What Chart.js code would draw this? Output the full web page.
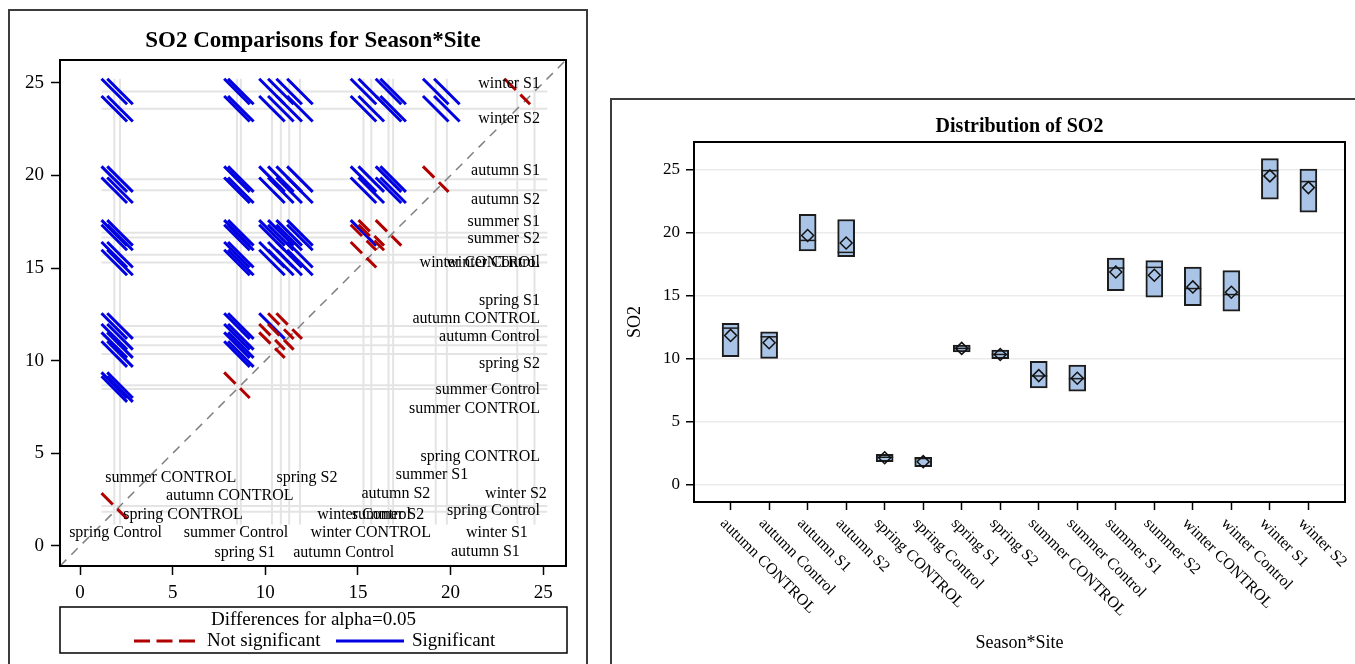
<!DOCTYPE html>
<html lang="en">
<head>
<meta charset="UTF-8">
<title>SO2 by Season*Site</title>
<script src="https://cdn.jsdelivr.net/npm/chart.js"></script>
<style>
  html, body { margin: 0; padding: 0; background: #fff; overflow: hidden; }
  body { width: 1355px; height: 664px; position: relative; }
  .panel { position: absolute; border: 2px solid #3c3c3c; }
  #leftPanel { left: 8px; top: 9px; width: 576px; height: 700px; }
  #rightPanel { left: 610px; top: 98px; width: 800px; height: 700px; }
  canvas { position: absolute; }
  #diffogram { left: 10px; top: 10px; }
  #boxplot { left: 612px; top: 100px; }
</style>
</head>
<body>
<div class="panel" id="leftPanel"></div>
<div class="panel" id="rightPanel"></div>
<canvas id="diffogram" width="576" height="654"></canvas>
<canvas id="boxplot" width="743" height="564"></canvas>

<script>
// groups (Season*Site) and their summary statistics
const groups = ['autumn CONTROL', 'autumn Control', 'autumn S1', 'autumn S2',
                'spring CONTROL', 'spring Control', 'spring S1', 'spring S2',
                'summer CONTROL', 'summer Control', 'summer S1', 'summer S2',
                'winter CONTROL', 'winter Control', 'winter S1', 'winter S2'];
const means   = [11.87, 11.29, 19.80, 19.20, 2.16, 1.85, 10.84, 10.36,
                 8.68, 8.47, 16.90, 16.65, 15.72, 15.30, 24.53, 23.60];
const q1      = [10.18, 10.05, 18.57, 18.12, 1.85, 1.45, 10.57, 10.02,
                 7.70, 7.44, 15.43, 14.90, 14.24, 13.79, 22.68, 21.65];
const medians = [12.45, 11.76, 19.41, 18.46, 2.20, 2.10, 10.84, 10.36,
                 8.65, 8.44, 17.22, 17.27, 15.59, 15.11, 24.95, 24.08];
const q3      = [12.82, 12.16, 21.47, 21.07, 2.43, 2.19, 11.10, 10.71,
                 9.81, 9.52, 18.01, 17.80, 17.30, 17.01, 25.90, 25.08];
// width of the confidence interval for a difference (alpha = 0.05)
const ciWidth = 1.38;
const axisTicks = [0, 5, 10, 15, 20, 25];
const groupIdx = groups.map((g, i) => i);

// where SAS put the level labels inside the diffogram (axis units)
const rightLabelLayout = [
  ['winter S1', 24.92], ['winter S2', 23.03], ['autumn S1', 20.24], ['autumn S2', 18.71],
  ['summer S1', 17.49], ['summer S2', 16.58], ['winter CONTROL', 15.29], ['winter Control', 15.29],
  ['spring S1', 13.26], ['autumn CONTROL', 12.28], ['autumn Control', 11.28], ['spring S2', 9.86],
  ['summer Control', 8.42], ['summer CONTROL', 7.38], ['spring CONTROL', 4.82], ['spring Control', 1.89]
];
const bottomLabelLayout = [
  ['summer CONTROL', 4.90, 3.69], ['spring S2', 12.25, 3.69], ['summer S1', 19.0, 3.82],
  ['autumn CONTROL', 8.08, 2.70], ['autumn S2', 17.05, 2.79], ['winter S2', 23.53, 2.84],
  ['spring CONTROL', 5.56, 1.71], ['winter Control', 15.33, 1.71], ['summer S2', 16.62, 1.71],
  ['spring Control', 1.92, 0.69], ['summer Control', 8.42, 0.69], ['winter CONTROL', 15.69, 0.69],
  ['winter S1', 22.5, 0.72], ['spring S1', 8.9, -0.39], ['autumn Control', 14.23, -0.39],
  ['autumn S1', 21.88, -0.31]
];

const FONT = "'Liberation Serif', 'Times New Roman', serif";
Chart.defaults.font.family = FONT;
Chart.defaults.color = '#000';
const BLUE = '#0000e0';
const RED = '#b00000';

// ---------- diffogram ----------
const axisMin = -1.08, axisMax = 26.23;
const half = ciWidth / 2;
const gLo = Math.min(...means) - half, gHi = Math.max(...means) + half;

function seg(data, color, width, dash, order) {
  return { data, borderColor: color, borderWidth: width, borderDash: dash,
           showLine: true, pointRadius: 0, order, fill: false };
}

const diffSets = [];
means.forEach(m => {
  diffSets.push(seg([{ x: m, y: gLo }, { x: m, y: gHi }], '#e4e4e4', 2, [], 4));
  diffSets.push(seg([{ x: gLo, y: m }, { x: gHi, y: m }], '#e4e4e4', 2, [], 4));
});
diffSets.push(seg([{ x: axisMin, y: axisMin }, { x: axisMax, y: axisMax }], '#808080', 1.5, [9, 7], 3));
for (let i = 0; i < means.length; i++) {
  for (let j = i + 1; j < means.length; j++) {
    const lo = Math.min(means[i], means[j]);
    const hi = Math.max(means[i], means[j]);
    const sig = hi - lo > ciWidth;
    diffSets.push(seg([{ x: lo - half, y: hi + half }, { x: lo + half, y: hi - half }],
      sig ? BLUE : RED, 3, sig ? [] : [16, 6.5], sig ? 2 : 1));
  }
}

const frame = {
  id: 'frame',
  afterDraw(chart) {
    const { ctx, chartArea: a } = chart;
    ctx.save();
    ctx.strokeStyle = '#000';
    ctx.lineWidth = 2;
    ctx.strokeRect(a.left, a.top, a.right - a.left, a.bottom - a.top);
    ctx.restore();
  }
};

const diffText = {
  id: 'diffText',
  afterDraw(chart) {
    const { ctx, chartArea: a, scales } = chart;
    ctx.save();
    ctx.fillStyle = '#000';
    // title
    ctx.font = 'bold 23px ' + FONT;
    ctx.textAlign = 'center';
    ctx.textBaseline = 'alphabetic';
    ctx.fillText('SO2 Comparisons for Season*Site', (a.left + a.right) / 2, 37);
    // level labels
    ctx.font = '16px ' + FONT;
    ctx.textBaseline = 'middle';
    ctx.textAlign = 'right';
    rightLabelLayout.forEach(([name, yv]) => {
      ctx.fillText(name, a.right - 26, scales.y.getPixelForValue(yv));
    });
    ctx.textAlign = 'center';
    bottomLabelLayout.forEach(([name, xv, yv]) => {
      ctx.fillText(name, scales.x.getPixelForValue(xv), scales.y.getPixelForValue(yv));
    });
    // legend
    const left = a.left, right = a.right + 1;
    const top = a.bottom + 41, h = 46;
    ctx.strokeStyle = '#000';
    ctx.lineWidth = 1.5;
    ctx.strokeRect(left, top, right - left, h);
    ctx.font = '19px ' + FONT;
    ctx.fillText('Differences for alpha=0.05', (left + right) / 2, top + 13);
    const y = top + 34;
    ctx.lineWidth = 3;
    ctx.strokeStyle = RED;
    ctx.setLineDash([16, 6.5]);
    ctx.beginPath(); ctx.moveTo(left + 74, y); ctx.lineTo(left + 135, y); ctx.stroke();
    ctx.setLineDash([]);
    ctx.strokeStyle = BLUE;
    ctx.beginPath(); ctx.moveTo(left + 276, y); ctx.lineTo(left + 344, y); ctx.stroke();
    ctx.textAlign = 'left';
    ctx.fillText('Not significant', left + 147, y);
    ctx.fillText('Significant', left + 352, y);
    ctx.restore();
  }
};

function diffAxis(fitFn) {
  return {
    type: 'linear', min: axisMin, max: axisMax,
    afterBuildTicks: s => { s.ticks = axisTicks.map(v => ({ value: v })); },
    afterFit: fitFn,
    border: { display: false },
    grid: { drawOnChartArea: false, tickLength: 9, tickColor: '#000', tickWidth: 1.5 },
    ticks: { color: '#000', font: { size: 19 }, padding: 7, maxRotation: 0, autoSkip: false }
  };
}

new Chart(document.getElementById('diffogram'), {
  type: 'scatter',
  data: { datasets: diffSets },
  options: {
    responsive: false,
    animation: false,
    layout: { padding: { top: 50, right: 20, left: 0, bottom: 0 } },
    plugins: { legend: { display: false }, tooltip: { enabled: false } },
    scales: {
      x: diffAxis(s => { s.height = 98; }),
      y: diffAxis(s => { s.width = 50; })
    }
  },
  plugins: [frame, diffText]
});

// ---------- box plot ----------
const boxText = {
  id: 'boxText',
  afterDraw(chart) {
    const { ctx, chartArea: a, scales } = chart;
    ctx.save();
    ctx.fillStyle = '#000';
    ctx.font = 'bold 20px ' + FONT;
    ctx.textAlign = 'center';
    ctx.textBaseline = 'alphabetic';
    ctx.fillText('Distribution of SO2', (a.left + a.right) / 2, 32);
    ctx.font = '18px ' + FONT;
    ctx.textBaseline = 'middle';
    ctx.fillText('Season*Site', (a.left + a.right) / 2, 543);
    ctx.save();
    ctx.translate(23.5, (a.top + a.bottom) / 2);
    ctx.rotate(-Math.PI / 2);
    ctx.fillText('SO2', 0, 0);
    ctx.restore();
    ctx.font = '16px ' + FONT;
    ctx.textAlign = 'left';
    groups.forEach((g, i) => {
      ctx.save();
      ctx.translate(scales.x.getPixelForValue(i) - 8, a.bottom + 19);
      ctx.rotate(Math.PI / 4);
      ctx.fillText(g, 0, 0);
      ctx.restore();
    });
    ctx.restore();
  }
};

new Chart(document.getElementById('boxplot'), {
  type: 'bar',
  data: {
    datasets: [
      { type: 'bar', data: groupIdx.map(i => ({ x: i, y: [q1[i], q3[i]] })),
        backgroundColor: '#a9c4e6', borderColor: '#1c1c1c', borderWidth: 2,
        borderSkipped: false, barThickness: 17, order: 3 },
      { type: 'scatter', data: groupIdx.map(i => ({ x: i, y: medians[i] })),
        pointStyle: 'line', pointRadius: 8.5, borderColor: '#1c1c1c', borderWidth: 1.5, order: 2 },
      { type: 'scatter', data: groupIdx.map(i => ({ x: i, y: means[i] })),
        pointStyle: 'rectRot', pointRadius: 6, backgroundColor: 'rgba(0,0,0,0)',
        borderColor: '#111', borderWidth: 1.5, order: 1 }
    ]
  },
  options: {
    responsive: false,
    animation: false,
    layout: { padding: { top: 42, right: 6, left: 0, bottom: 0 } },
    plugins: { legend: { display: false }, tooltip: { enabled: false } },
    scales: {
      x: {
        type: 'linear', min: -0.95, max: 15.95, offset: false,
        afterBuildTicks: s => { s.ticks = groupIdx.map(v => ({ value: v })); },
        afterFit: s => { s.height = 162; },
        border: { display: false },
        grid: { offset: false, drawOnChartArea: false, tickLength: 8, tickColor: '#000', tickWidth: 1.5 },
        ticks: { display: false }
      },
      y: {
        type: 'linear', min: -1.35, max: 27.22,
        afterBuildTicks: s => { s.ticks = axisTicks.map(v => ({ value: v })); },
        afterFit: s => { s.width = 82; },
        border: { display: false },
        grid: { color: '#ebebeb', lineWidth: 1.5, tickLength: 8, tickColor: '#000', tickWidth: 1.5 },
        ticks: { color: '#000', font: { size: 17 }, padding: 6 }
      }
    }
  },
  plugins: [frame, boxText]
});
</script>
</body>
</html>
